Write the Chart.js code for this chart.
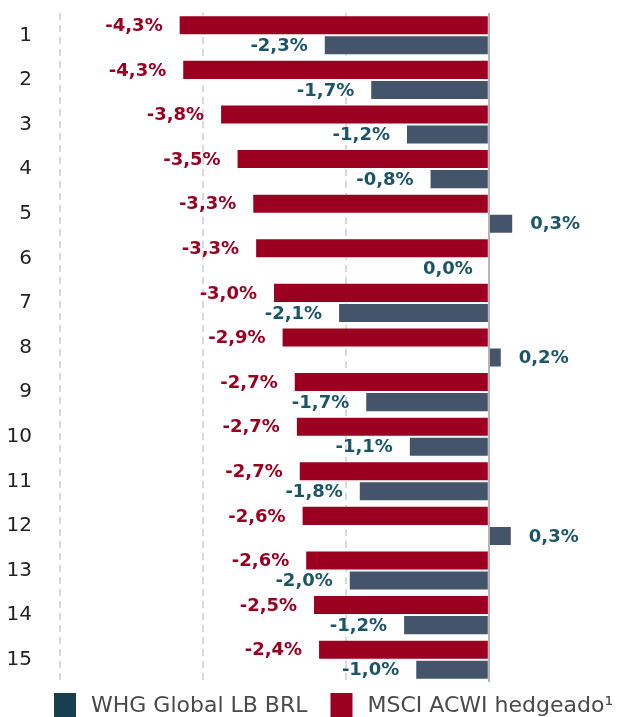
<!DOCTYPE html>
<html><head><meta charset="utf-8">
<script src="https://cdn.jsdelivr.net/npm/chart.js@4"></script>
<style>html,body{margin:0;padding:0;background:#fff;overflow:hidden}#wrap{width:629px;height:717px;position:relative}</style>
</head><body><div id="wrap"><canvas id="c"></canvas></div>
<script>
const categories = ['1','2','3','4','5','6','7','8','9','10','11','12','13','14','15'];
const msciValues = [-4.34,-4.29,-3.76,-3.53,-3.31,-3.27,-3.02,-2.90,-2.73,-2.70,-2.66,-2.62,-2.57,-2.46,-2.39];
const whgValues  = [-2.31,-1.66,-1.16,-0.83,0.34,0.0,-2.11,0.18,-1.73,-1.12,-1.82,0.32,-1.96,-1.20,-1.03];
const seriesNames = ['MSCI ACWI hedgeado\u00B9','WHG Global LB BRL'];
const xTickValues = [-6,-4,-2,0];
const xMin = -6, xMax = 1.96;

const FONT = '"DejaVu Sans", sans-serif';

const valueLabels = {
  id: 'valueLabels',
  afterDatasetsDraw(chart) {
    const ctx = chart.ctx;
    ctx.save();
    ctx.font = 'bold 18px ' + FONT;
    ctx.textBaseline = 'middle';
    chart.data.datasets.forEach((ds, di) => {
      const meta = chart.getDatasetMeta(di);
      meta.data.forEach((bar, i) => {
        const v = ds.data[i];
        const txt = (v < 0 ? '-' : '') + Math.abs(v).toFixed(1).replace('.', ',') + '%';
        ctx.fillStyle = ds.labelColor;
        if (v > 0) { ctx.textAlign = 'left'; ctx.fillText(txt, bar.x + 17, bar.y + 1); }
        else { ctx.textAlign = 'right'; ctx.fillText(txt, bar.x - 16, bar.y + 1); }
      });
    });
    ctx.restore();
  }
};

const customLegend = {
  id: 'customLegend',
  afterDraw(chart) {
    const ctx = chart.ctx;
    ctx.save();
    ctx.font = '22px ' + FONT;
    ctx.textBaseline = 'middle';
    ctx.textAlign = 'left';
    const order = [1, 0];
    let x = 54;
    const top = 693, bw = 22, bh = 24;
    order.forEach(di => {
      const ds = chart.data.datasets[di];
      ctx.fillStyle = ds.legendColor;
      ctx.fillRect(x, top, bw, bh);
      x += bw + 15;
      ctx.fillStyle = '#4a4a4a';
      ctx.fillText(ds.label, x, top + 13);
      x += ctx.measureText(ds.label).width + 23;
    });
    ctx.restore();
  }
};

new Chart(document.getElementById('c'), {
  type: 'bar',
  data: {
    labels: categories,
    datasets: [
      { label: seriesNames[0], data: msciValues, backgroundColor: '#9b0020', borderColor: 'rgba(255,255,255,0.45)', borderWidth: 1, labelColor: '#9b0020', legendColor: '#9b0020' },
      { label: seriesNames[1], data: whgValues, backgroundColor: '#44546a', borderColor: 'rgba(255,255,255,0.45)', borderWidth: 1, labelColor: '#1a5568', legendColor: '#173f50' }
    ]
  },
  options: {
    indexAxis: 'y',
    responsive: true,
    maintainAspectRatio: false,
    animation: false,
    layout: { padding: { left: 0, right: 0, top: 13, bottom: 35 } },
    datasets: { bar: { barPercentage: 1, categoryPercentage: 0.9 } },
    plugins: { legend: { display: false }, tooltip: { enabled: false } },
    scales: {
      y: {
        grid: { display: false },
        border: { display: false },
        ticks: { font: { family: FONT, size: 20 }, color: '#222', padding: 20 },
        afterFit(s) { s.width = 60; s.paddingTop = 0; s.paddingBottom = 0; }
      },
      x: {
        min: xMin, max: xMax,
        afterBuildTicks(s) { s.ticks = xTickValues.map(v => ({ value: v })); },
        ticks: { display: false },
        grid: {
          drawTicks: false,
          lineWidth: 2,
          color: (c) => (c.tick && c.tick.value === 0) ? '#b5b5b5' : '#d9d9d9'
        },
        border: {
          display: false,
          dash: (c) => (c.tick && c.tick.value === 0) ? [] : [7, 5]
        },
        afterFit(s) { s.height = 0; s.paddingLeft = 0; s.paddingRight = 0; }
      }
    }
  },
  plugins: [valueLabels, customLegend]
});
</script>
</body></html>
